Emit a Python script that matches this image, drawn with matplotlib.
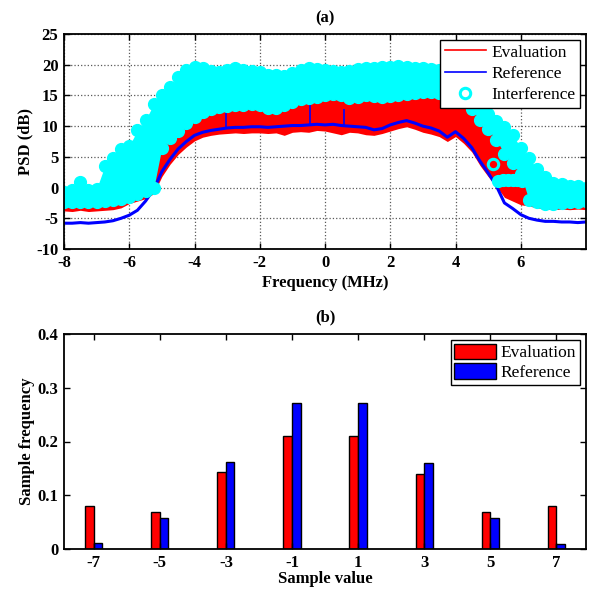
import matplotlib
matplotlib.use("Agg")
import matplotlib.pyplot as plt
from matplotlib.lines import Line2D
import numpy as np

plt.rcParams['font.family'] = ['Liberation Serif', 'DejaVu Serif']
plt.rcParams['font.size'] = 12
plt.rcParams['axes.unicode_minus'] = False

# ---------------- (a) PSD data (0.25 MHz grid) ----------------
freq = np.arange(-8, 8.001, 0.25)

reference_psd = [-5.8, -5.8, -5.7, -5.8, -5.7, -5.6, -5.4, -5.0, -4.5, -3.7, -2.2, -0.3,
                 2.6, 4.6, 6.3, 7.5, 8.5, 9.0, 9.3, 9.5, 9.7, 9.8, 9.8, 9.9, 9.9, 9.8,
                 9.9, 10.0, 10.1, 10.1, 10.2, 10.3, 10.2, 10.3, 10.1, 10.0, 9.9, 9.8,
                 9.4, 9.6, 10.2, 10.6, 10.9, 10.5, 10.0, 9.7, 9.2, 8.2, 9.1, 8.0, 6.5,
                 4.3, 2.4, 0.3, -2.5, -3.4, -4.4, -5.0, -5.3, -5.5, -5.5, -5.6, -5.6,
                 -5.7, -5.6]

# evaluation PSD is very noisy: keep its lower and upper envelope
eval_low = [-3.8, -3.9, -3.7, -3.9, -3.8, -3.7, -3.6, -3.3, -2.6, -2.2, -1.8, -1.0,
            1.8, 3.8, 5.4, 6.6, 7.6, 8.2, 8.5, 8.7, 8.8, 8.9, 8.8, 8.9, 8.9, 8.8,
            8.9, 8.5, 9.0, 9.1, 9.0, 9.3, 9.2, 8.9, 8.6, 9.0, 8.9, 8.6, 8.5, 8.8,
            9.2, 9.6, 9.9, 9.5, 9.0, 8.7, 8.3, 7.5, 8.3, 7.2, 5.8, 3.6, 1.8, 0.2,
            -1.6, -2.2, -2.8, -3.0, -3.3, -3.5, -3.6, -3.5, -3.6, -3.5, -3.6]
eval_high = [-1.0, -1.0, -1.0, -1.0, -1.0, 0.5, 2.0, 3.0, 4.0, 5.0, 6.0, 7.0,
             8.0, 9.0, 10.0, 11.0, 12.0, 13.0, 13.5, 14.0, 14.0, 14.0, 14.0, 14.0,
             14.0, 14.0, 14.0, 14.0, 14.5, 15.0, 15.0, 15.0, 15.0, 15.0, 15.0, 15.0,
             15.0, 15.0, 15.0, 15.0, 15.0, 15.0, 15.0, 15.0, 15.0, 15.0, 15.0, 15.0,
             15.0, 14.5, 13.0, 11.5, 10.0, 8.5, 6.0, 4.5, 3.0, -1.5, -1.5, -1.5,
             -1.5, -1.5, -1.5, -1.5, -1.5]

# spikes of the reference curve
spike_freq = [-3.02, -0.47, 0.57]
spike_psd = [12.2, 13.5, 12.8]

# interference: band of circle centres (low / high)
interf_low = [-2.3, -2.3, -2.3, -2.4, -2.3, -2.2, -2.0, -1.8, -1.5, -1.0, -0.6, -0.1,
              6.5, 8.0, 9.2, 10.5, 11.5, 12.3, 12.8, 13.1, 13.3, 13.5, 13.5, 13.6,
              13.4, 13.0, 13.0, 13.5, 14.0, 14.4, 14.6, 14.8, 15.0, 15.2, 15.1,
              14.6, 14.8, 15.1, 14.9, 14.7, 14.9, 15.1, 15.3, 15.4, 15.5, 15.5,
              15.4, 15.2, 15.0, 14.3, 12.8, 11.0, 9.6, 7.8, 5.5, 4.0, 2.2, -2.0,
              -2.4, -2.6, -2.6, -2.5, -2.4, -2.3, -2.2]
interf_high = [-0.7, -0.4, 0.9, -0.4, -0.2, 3.5, 4.8, 6.3, 6.8, 9.3, 11.0, 13.6,
               15.0, 16.4, 18.0, 19.2, 19.6, 19.4, 19.0, 18.8, 19.2, 19.5, 19.2,
               19.0, 18.8, 18.4, 18.3, 18.2, 18.6, 19.1, 19.4, 19.3, 19.1, 19.0,
               18.8, 19.0, 19.3, 19.4, 19.4, 19.6, 19.6, 19.8, 19.7, 19.5, 19.4,
               19.3, 19.2, 18.8, 18.2, 16.5, 14.5, 13.0, 12.0, 10.8, 9.8, 8.6, 6.5,
               4.8, 3.0, 1.8, 0.8, 0.5, 0.3, 0.2, 0.0]

# isolated interference samples below the main band
interf_extra_freq = [5.30, 5.45, 5.60, 5.75, 5.90, 6.05]
interf_extra_psd = [1.0, 1.2, 1.3, 1.2, 1.3, 1.0]
interf_single_freq = [5.14]
interf_single_psd = [3.86]

# ---------------- (b) histogram data ----------------
sample_values = [-7, -5, -3, -1, 1, 3, 5, 7]
eval_freq = [0.080, 0.069, 0.143, 0.211, 0.211, 0.140, 0.068, 0.080]
ref_freq = [0.011, 0.058, 0.161, 0.272, 0.271, 0.160, 0.057, 0.010]

W, H = 589, 593
fig = plt.figure(figsize=(W / 100, H / 100), dpi=100)
ax1 = fig.add_axes([64 / W, 1 - 249 / H, 522 / W, 215 / H])
ax2 = fig.add_axes([64 / W, 1 - 549 / H, 522 / W, 215 / H])

ms, mew = 7.5, 2.2

# <---------------------- (a) ---------------------->
ax1.fill_between(freq, eval_low, eval_high, color='red', lw=0, zorder=2)
ax1.plot(freq, reference_psd, color='blue', lw=2.2, zorder=3)
ax1.vlines(spike_freq, np.interp(spike_freq, freq, reference_psd), spike_psd,
           color='blue', lw=1.2, zorder=3)
ax1.fill_between(freq, interf_low, interf_high, color='cyan', lw=0, zorder=4)
ax1.plot(freq, interf_low, 'o', color='cyan', ms=ms + 1, mec='cyan', zorder=4)
ax1.plot(freq, interf_high, 'o', color='cyan', ms=ms + 1, mec='cyan', zorder=4)
ax1.plot(interf_extra_freq, interf_extra_psd, 'o', color='cyan', ms=ms + 1,
         mec='cyan', zorder=4)
ax1.plot(interf_single_freq, interf_single_psd, 'o', mfc='none', mec='cyan',
         ms=ms, mew=mew, zorder=5)

ax1.set_xlim(-8, 8)
ax1.set_ylim(-10, 25)
ax1.set_xticks(np.arange(-8, 7, 2))
ax1.set_yticks(np.arange(-10, 26, 5))
ax1.grid(True, linestyle=':', color='0.35', lw=0.9)
ax1.set_axisbelow(True)
ax1.set_xlabel('Frequency (MHz)', fontweight='bold', labelpad=3)
ax1.set_ylabel('PSD (dB)', fontweight='bold', labelpad=2)
ax1.set_title('(a)', fontweight='bold', fontsize=12, pad=8)

handles = [Line2D([], [], color='red', lw=1.2),
           Line2D([], [], color='blue', lw=1.2),
           Line2D([], [], ls='none', marker='o', mfc='none', mec='cyan',
                  ms=ms, mew=mew)]
leg1 = ax1.legend(handles, ['Evaluation', 'Reference', 'Interference'],
                  loc='upper right', fancybox=False, edgecolor='black',
                  framealpha=1, borderaxespad=0.35, handlelength=2.4,
                  handletextpad=0.3, labelspacing=0.3, borderpad=0.25,
                  prop={'size': 12.5})
leg1.get_frame().set_linewidth(1.0)
leg1.set_zorder(10)

# <---------------------- (b) ---------------------->
bw = 0.26
x = np.array(sample_values)
ax2.bar(x - bw / 2, eval_freq, bw, color='red', edgecolor='black', lw=1.0,
        label='Evaluation')
ax2.bar(x + bw / 2, ref_freq, bw, color='blue', edgecolor='black', lw=1.0,
        label='Reference')
ax2.set_xlim(-7.9, 7.9)
ax2.set_ylim(0, 0.4)
ax2.set_xticks(sample_values)
ax2.set_yticks([0, 0.1, 0.2, 0.3, 0.4])
ax2.set_yticklabels(['0', '0.1', '0.2', '0.3', '0.4'])
ax2.set_xlabel('Sample value', fontweight='bold', labelpad=0)
ax2.set_ylabel('Sample frequency', fontweight='bold', labelpad=2)
ax2.set_title('(b)', fontweight='bold', fontsize=12, pad=9)
leg2 = ax2.legend(loc='upper right', fancybox=False, edgecolor='black',
                  framealpha=1, borderaxespad=0.35, handlelength=2.4,
                  handleheight=1.0, handletextpad=0.3, labelspacing=0.12,
                  borderpad=0.2, prop={'size': 12.5})
leg2.get_frame().set_linewidth(1.0)

for ax in (ax1, ax2):
    ax.tick_params(direction='in', top=True, right=True, length=4, width=1.0,
                   labelsize=12, pad=4)
    for lab in ax.get_xticklabels() + ax.get_yticklabels():
        lab.set_fontweight('bold')
    for sp in ax.spines.values():
        sp.set_linewidth(1.3)
        sp.set_zorder(12)

fig.savefig('out.png', dpi=100)
